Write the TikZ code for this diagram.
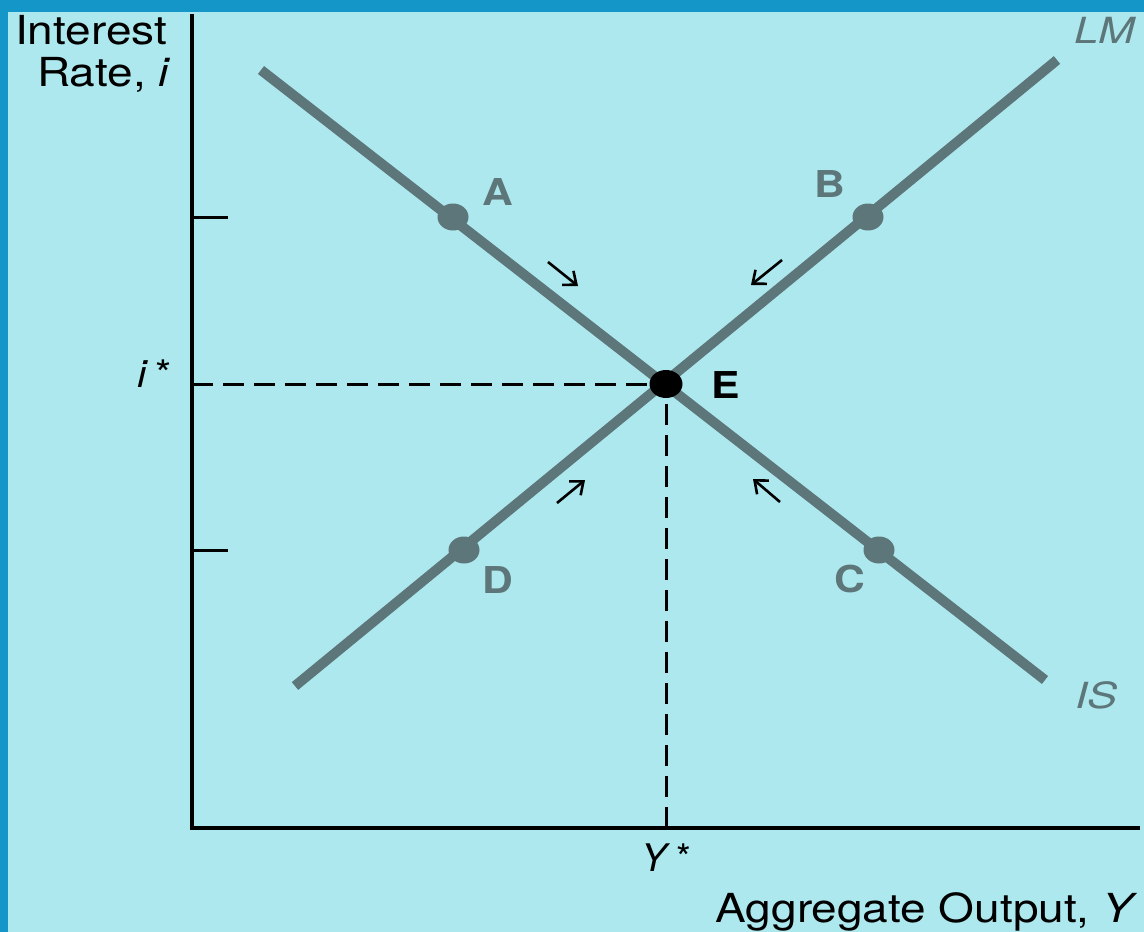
\documentclass[tikz,border=0pt]{standalone}
\usepackage{fontspec}
\setmainfont{TeX Gyre Heros}
\usetikzlibrary{arrows.meta,shapes.geometric}
\definecolor{bgcyan}{HTML}{ADE8EE}
\definecolor{frameblue}{HTML}{1596C9}
\definecolor{curvegray}{HTML}{5D7679}
\newcommand\widerby[2]{\scalebox{#1}[1]{#2}}
\tikzset{
  axis/.style={line width=3.5pt,black},
  curve/.style={line width=10pt,curvegray},
  guide/.style={line width=3pt,black,dash pattern=on 21pt off 10pt},
  dot/.style={ellipse,fill=curvegray,minimum width=31pt,minimum height=27pt,inner sep=0pt},
  edot/.style={ellipse,fill=black,minimum width=33pt,minimum height=28pt,inner sep=0pt},
  ptlabel/.style={curvegray,font=\fontsize{37}{40}\selectfont\bfseries,inner sep=0pt},
  curvelabel/.style={curvegray,font=\fontsize{36}{40}\selectfont\itshape,inner sep=0pt},
  axlabel/.style={black,font=\fontsize{40}{46}\selectfont,inner sep=0pt},
  starlabel/.style={black,font=\fontsize{38}{42}\selectfont,inner sep=0pt},
  move/.style={line width=2.6pt,black,-{Straight Barb[length=11pt,width=18pt,line width=2.6pt]}},
}
\begin{document}
\begin{tikzpicture}[x=1pt,y=-1pt]
\useasboundingbox (0,0) rectangle (1144,932);
\fill[frameblue] (0,0) rectangle (1144,932);
\fill[bgcyan] (8,12) rectangle (1144,932);
% axes
\coordinate (O) at (192,828);
\coordinate (ytop) at (192,14);
\coordinate (xend) at (1140,828);
\draw[axis] (ytop) -- (O) -- (xend);
% ticks
\coordinate (t1a) at (192,217); \coordinate (t1b) at (228,217);
\coordinate (t2a) at (192,550); \coordinate (t2b) at (228,550);
\draw[line width=3pt] (t1a) -- (t1b);
\draw[line width=3pt] (t2a) -- (t2b);
% equilibrium guides
\coordinate (Ec) at (666,384);
\coordinate (iax) at (192,384);
\coordinate (yax) at (666,828);
\draw[guide] (iax) -- (Ec);
\draw[guide] (yax) -- (Ec);
% curves
\coordinate (IS1) at (261,70);
\coordinate (IS2) at (1045,680);
\coordinate (LM1) at (295,686);
\coordinate (LM2) at (1057,60);
\draw[curve] (IS1) -- (IS2);
\draw[curve] (LM1) -- (LM2);
\node[edot] (E) at (Ec) {};
% points
\node[dot] (A) at (453,217) {};
\node[dot] (B) at (868,217) {};
\node[dot] (C) at (879,550) {};
\node[dot] (D) at (464,550) {};
% point labels
\node[ptlabel,anchor=base west] (Al) at (482,205) {\widerby{1.15}{A}};
\node[ptlabel,anchor=base west] (Bl) at (814,197) {\widerby{1.15}{B}};
\node[ptlabel,anchor=base west,black] (El) at (711,398) {\widerby{1.15}{E}};
\node[ptlabel,anchor=base west] (Cl) at (834,592) {\widerby{1.15}{C}};
\node[ptlabel,anchor=base west] (Dl) at (482,593) {\widerby{1.15}{D}};
% curve labels
\node[curvelabel,anchor=base west] (LMl) at (1074,43) {\widerby{1.22}{LM}};
\node[curvelabel,anchor=base west] (ISl) at (1075,708) {\widerby{1.25}{IS}};
% movement arrows
\coordinate (a1s) at (548,262); \coordinate (a1e) at (578,286);
\coordinate (a2s) at (782,260); \coordinate (a2e) at (751,285);
\coordinate (a3s) at (557,503); \coordinate (a3e) at (585,480);
\coordinate (a4s) at (780,502); \coordinate (a4e) at (753,479);
\draw[move] (a1s) -- (a1e);
\draw[move] (a2s) -- (a2e);
\draw[move] (a3s) -- (a3e);
\draw[move] (a4s) -- (a4e);
% axis labels
\node[axlabel,anchor=base west] (yl1) at (15,44) {\widerby{1.15}{Interest}};
\node[axlabel,anchor=base west] (yl2) at (37,86) {\widerby{1.15}{Rate, \textit{i}}};
\node[starlabel,anchor=base west] (istar) at (137,387) {\widerby{1.1}{\textit{i}\,*}};
\node[starlabel,anchor=base west] (ystar) at (641,871) {\textit{Y}\,*};
\node[axlabel,anchor=base east] (xl) at (1138,922) {\widerby{1.15}{Aggregate Output, \textit{Y}}};
\end{tikzpicture}
\end{document}
